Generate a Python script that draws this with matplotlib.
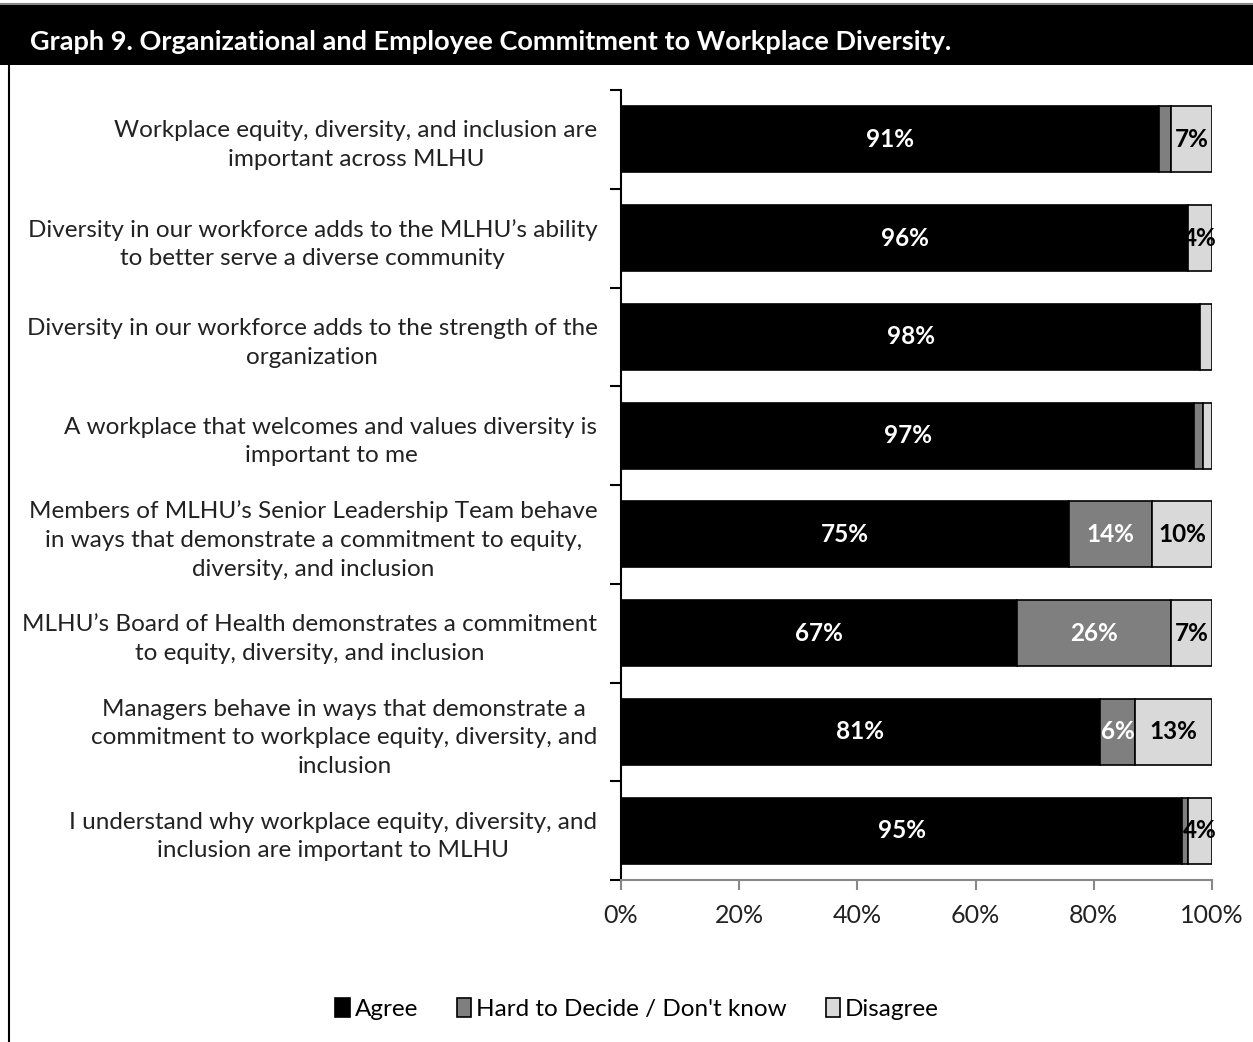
import matplotlib.pyplot as plt
from matplotlib.patches import Patch, Rectangle
from matplotlib.lines import Line2D
import numpy as np

plt.rcParams['font.family'] = ['Lato', 'DejaVu Sans']

categories = [
    "Workplace equity, diversity, and inclusion are\nimportant across MLHU",
    "Diversity in our workforce adds to the MLHU\u2019s ability\nto better serve a diverse community",
    "Diversity in our workforce adds to the strength of the\norganization",
    "A workplace that welcomes and values diversity is\nimportant to me",
    "Members of MLHU\u2019s Senior Leadership Team behave\nin ways that demonstrate a commitment to equity,\ndiversity, and inclusion",
    "MLHU\u2019s Board of Health demonstrates a commitment\nto equity, diversity, and inclusion",
    "Managers behave in ways that demonstrate a\ncommitment to workplace equity, diversity, and\ninclusion",
    "I understand why workplace equity, diversity, and\ninclusion are important to MLHU",
]
agree = [91, 96, 98, 97, 75, 67, 81, 95]
hard = [2, 0, 0, 1.5, 14, 26, 6, 1]
disagree = [7, 4, 2, 1.5, 10, 7, 13, 4]
series_names = ['Agree', 'Hard to Decide / Don\'t know', 'Disagree']
colors = ['#000000', '#7f7f7f', '#d9d9d9']
text_colors = ['white', 'white', 'black']

W, H = 1253, 1042
fig = plt.figure(figsize=(W / 100, H / 100), dpi=100)

# header band
fig.patches.append(Rectangle((0, 1 - 65 / H), 1, 60 / H, transform=fig.transFigure,
                             facecolor='black', edgecolor='none'))
fig.lines.append(Line2D([0, 1], [1 - 4 / H, 1 - 4 / H], transform=fig.transFigure,
                        color='#888888', lw=1.5))
fig.lines.append(Line2D([9 / W, 9 / W], [0, 1 - 65 / H], transform=fig.transFigure,
                        color='black', lw=1.5))
fig.text(30 / W, 1 - 42 / H, 'Graph 9. Organizational and Employee Commitment to Workplace Diversity.',
         color='white', fontsize=19.5, fontweight='bold', va='center', ha='left')

ax = fig.add_axes([621 / W, 1 - 880 / H, (1212 - 621) / W, (880 - 90) / H])

data = np.array([agree, hard, disagree], dtype=float)
totals = data.sum(axis=0)
pct = data / totals * 100
y = np.arange(len(categories))
left = np.zeros(len(categories))
for i in range(3):
    ax.barh(y, pct[i], left=left, height=0.67, color=colors[i], edgecolor='black',
            linewidth=1.2, label=series_names[i])
    for j in range(len(categories)):
        if data[i, j] >= 3:
            ax.text(left[j] + pct[i, j] / 2, y[j], f'{data[i, j]:.0f}%', ha='center', va='center',
                    color=text_colors[i], fontsize=17.5, fontweight='bold')
    left += pct[i]

ax.set_xlim(0, 100)
ax.set_ylim(len(categories) - 0.5, -0.5)
ax.set_xticks(np.arange(0, 101, 20))
ax.set_xticklabels([f'{v}%' for v in range(0, 101, 20)], fontsize=18, color='#222222')
ax.set_yticks(y)
ax.set_yticklabels(categories, fontsize=17.5, color='#222222', multialignment='center',
                   linespacing=1.45)
ax.set_yticks(np.arange(-0.5, len(categories)), minor=True)
ax.tick_params(axis='y', which='major', length=0, pad=17)
ax.tick_params(axis='y', which='minor', length=8, width=1.5, color='black', direction='out')
ax.tick_params(axis='x', length=7, width=1.5, color='#888888', pad=10)
for s in ['top', 'right']:
    ax.spines[s].set_visible(False)
ax.spines['left'].set_linewidth(1.5)
ax.spines['bottom'].set_color('#888888')
ax.spines['bottom'].set_linewidth(1.5)

handles = [Patch(facecolor=c, edgecolor='black', linewidth=1.2) for c in colors]
fig.legend(handles, series_names, loc='center', bbox_to_anchor=(637 / W, 1 - 1009 / H),
           ncol=3, frameon=False, fontsize=17.5, handlelength=0.6, handleheight=0.8,
           handletextpad=0.2, columnspacing=1.6)

fig.savefig('out.png', dpi=100)
